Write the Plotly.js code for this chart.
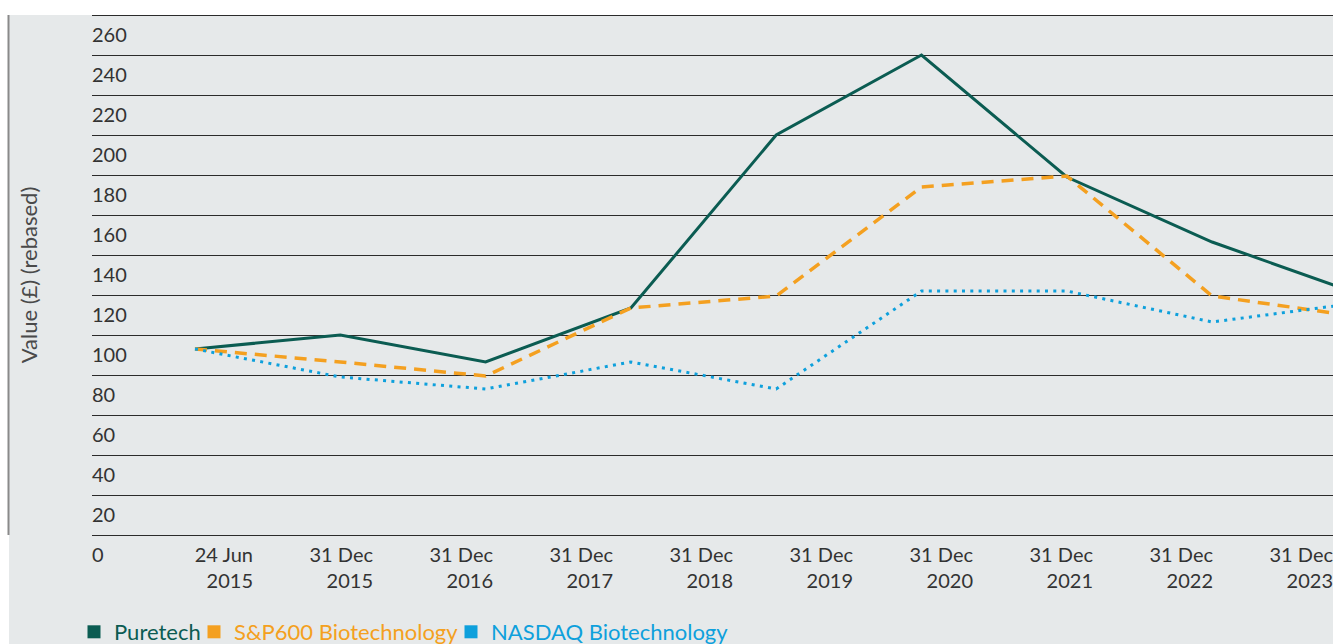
<!DOCTYPE html>
<html>
<head>
<meta charset="utf-8">
<script src="https://cdn.plot.ly/plotly-3.0.1.min.js"></script>
<style>
html, body { margin: 0; padding: 0; overflow: hidden; background: #ffffff; }
#chart { width: 1420px; height: 644px; }
</style>
</head>
<body>
<div id="chart"></div>
<script>
// ---- data ----
const periods = ["24 Jun 2015", "31 Dec 2015", "31 Dec 2016", "31 Dec 2017", "31 Dec 2018",
                 "31 Dec 2019", "31 Dec 2020", "31 Dec 2021", "31 Dec 2022", "31 Dec 2023"];
const tickLabels = periods.map(p => p.replace(/ (\d{4})$/, "<br>$1"));
const puretech = [93, 100, 86.5, 113.5, 200, 240, 179, 146.5, 120.7];
const sp600Biotech = [93, 86.5, 79.5, 113.5, 119.5, 174, 179.5, 119.5, 109.3];
const nasdaqBiotech = [93, 79, 73, 86.5, 73, 122, 122, 106.5, 116];
const seriesNames = ["Puretech", "S&P600 Biotechnology", "NASDAQ Biotechnology"];
const seriesColors = ["#0b5c52", "#f4a020", "#0ea0dc"];
const yTitle = "Value (£) (rebased)";

// ---- geometry (pixels) ----
const W = 1420, H = 644;
const yMin = -3, yMax = 263, pxPerUnit = 2;
const plotL = 92, plotR = 1400;
const plotB = 535 - yMin * pxPerUnit;          // value 0 sits at 535 px
const plotT = plotB - (yMax - yMin) * pxPerUnit;
const plotW = plotR - plotL, plotH = plotB - plotT;
const px2xp = px => (px - plotL) / plotW;
const px2yp = py => (plotB - py) / plotH;

const dataStep = 145.3, dataFirst = 195;
const dataR0 = (plotL - dataFirst) / dataStep;
const labStep = 120, labFirst = 253;
const labR0 = (plotL - labFirst) / labStep;

const font = "Lato, 'Open Sans', sans-serif";

const allSeries = [puretech, sp600Biotech, nasdaqBiotech];
const dashes = ["solid", "12px,8px", "3px,5.3px"];
const widths = [3, 3.5, 3];
const legendLeftPx = [74, 194, 451];

const traces = [];
allSeries.forEach((vals, i) => {
  traces.push({
    type: "scatter", mode: "lines",
    x: periods.slice(0, vals.length), y: vals,
    xaxis: "x", yaxis: "y",
    line: { color: seriesColors[i], width: widths[i], dash: dashes[i] },
    name: seriesNames[i], showlegend: false, hoverinfo: "x+y"
  });
});
seriesNames.forEach((n, i) => {
  traces.push({
    type: "scatter", mode: "markers", x: [null], y: [null],
    xaxis: "x2", yaxis: "y",
    marker: { symbol: "square", size: 13, color: seriesColors[i] },
    name: '<span style="color:' + seriesColors[i] + '">' + n + '</span>',
    legend: i === 0 ? "legend" : "legend" + (i + 1),
    showlegend: true
  });
});

const tf = { family: font, size: 20, color: "#333333", weight: 400 };
const legendBase = {
  orientation: "h", y: px2yp(611), xanchor: "left", yanchor: "top",
  bgcolor: "rgba(0,0,0,0)", font: { family: font, size: 22, weight: 400 }
};

const layout = {
  width: W, height: H,
  margin: { l: plotL, r: W - plotR, t: plotT, b: H - plotB, pad: 0, autoexpand: false },
  paper_bgcolor: "#ffffff",
  plot_bgcolor: "rgba(0,0,0,0)",
  font: { family: font, size: 20, color: "#333333", weight: 400 },
  showlegend: true,
  legend: Object.assign({}, legendBase, { x: px2xp(legendLeftPx[0]) }),
  legend2: Object.assign({}, legendBase, { x: px2xp(legendLeftPx[1]) }),
  legend3: Object.assign({}, legendBase, { x: px2xp(legendLeftPx[2]) }),
  xaxis: {
    type: "category", categoryorder: "array", categoryarray: periods,
    range: [dataR0, dataR0 + plotW / dataStep],
    showticklabels: false, showgrid: false, zeroline: false, showline: false, ticks: ""
  },
  xaxis2: {
    overlaying: "x", anchor: "y", side: "bottom",
    range: [labR0, labR0 + plotW / labStep],
    tickmode: "array", tickvals: tickLabels.map((_, i) => i), ticktext: tickLabels,
    ticklabelposition: "outside left", ticklabelstandoff: 0,
    showgrid: false, zeroline: false, showline: false, ticks: "",
    tickfont: tf
  },
  yaxis: {
    range: [yMin, yMax], tick0: 0, dtick: 20,
    showgrid: true, gridcolor: "#2b2b2b", gridwidth: 1,
    zeroline: true, zerolinecolor: "#2b2b2b", zerolinewidth: 1,
    showline: false, ticks: "",
    ticklabelposition: "inside", ticklabelshift: 20, ticklabelstandoff: -3,
    ticklabeloverflow: "allow",
    tickfont: tf,
    automargin: false,
    title: { text: yTitle, standoff: 48, font: { family: font, size: 22, color: "#4a4a4a", weight: 400 } }
  },
  shapes: [
    { type: "rect", xref: "paper", yref: "paper", layer: "below",
      x0: px2xp(9), x1: px2xp(W + 10), y0: px2yp(H + 10), y1: px2yp(15),
      fillcolor: "#e6e9ea", line: { width: 0 } },
    { type: "line", xref: "paper", yref: "paper", layer: "above",
      x0: px2xp(8.5), x1: px2xp(8.5), y0: px2yp(535), y1: px2yp(15),
      line: { color: "#8a8a8a", width: 2 } }
  ]
};

Plotly.newPlot("chart", traces, layout, { displayModeBar: false, staticPlot: true });
</script>
</body>
</html>
